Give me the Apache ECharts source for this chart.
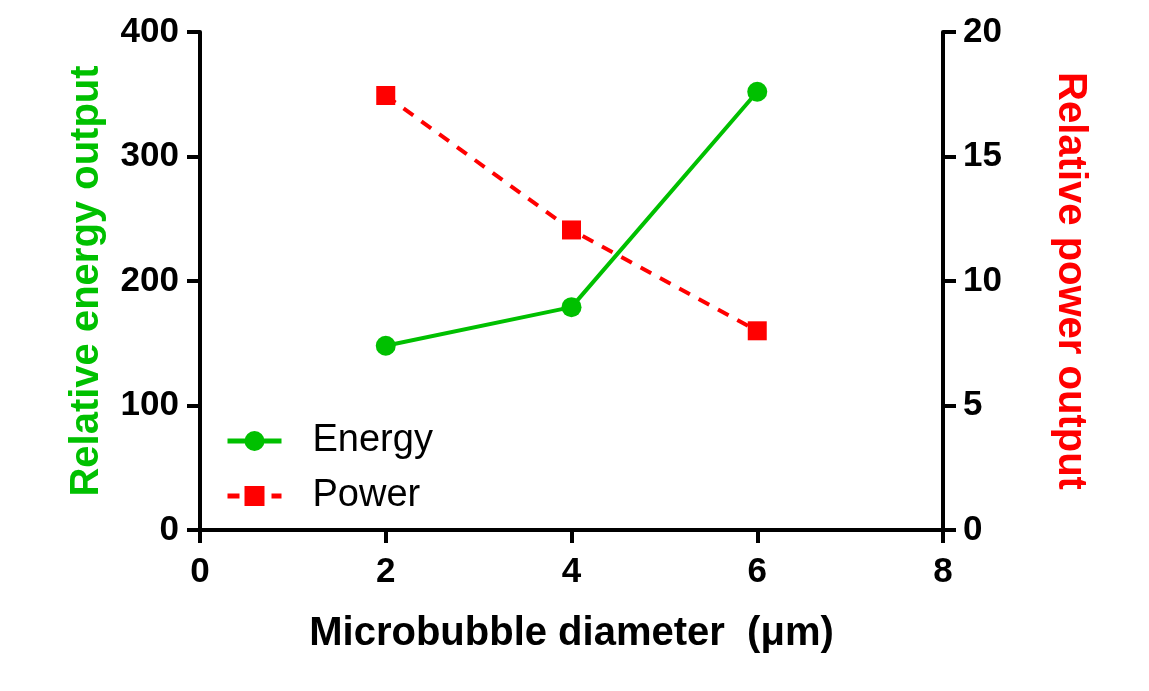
<!DOCTYPE html>
<html>
<head>
<meta charset="utf-8">
<script src="https://cdn.jsdelivr.net/npm/echarts@6/dist/echarts.min.js"></script>
<style>
  html, body { margin: 0; padding: 0; background: #fff; }
  #chart { width: 1149px; height: 691px; }
</style>
</head>
<body>
<div id="chart"></div>
<script>
// values
const diameters = [2, 4, 6];
const energy = [148, 179, 352];
const power = [17.45, 12.05, 8.0];

const GREEN = "#00c000";
const RED = "#ff0000";
const FONT = "Liberation Sans, Arial, sans-serif";

const axisCommon = {
  axisLine: { show: true, lineStyle: { color: "#000", width: 4 } },
  axisTick: { show: true, length: 13, lineStyle: { color: "#000", width: 4 } },
  splitLine: { show: false },
};

const option = {
  backgroundColor: "#fff",
  animation: false,
  grid: { left: 200, right: 206, top: 32, bottom: 161 },
  legend: {
    orient: "vertical",
    left: 220,
    top: 417,
    itemWidth: 54,
    itemHeight: 25,
    itemGap: 17,
    lineStyle: { width: 5 },
    textStyle: {
      fontFamily: FONT,
      fontSize: 38,
      color: "#000",
      padding: [0, 0, 0, 26],
    },
    data: ["Energy", "Power"],
  },
  xAxis: {
    type: "value",
    min: 0,
    max: 8,
    interval: 2,
    name: "Microbubble diameter  (\u03bcm)",
    nameLocation: "middle",
    nameGap: 84,
    nameTextStyle: { fontFamily: FONT, fontSize: 40, fontWeight: "bold", color: "#000" },
    axisLabel: { margin: 25, fontFamily: FONT, fontSize: 35, fontWeight: "bold", color: "#000" },
    ...axisCommon,
  },
  yAxis: [
    {
      type: "value",
      position: "left",
      min: 0,
      max: 400,
      interval: 100,
      name: "Relative energy output",
      nameLocation: "middle",
      nameGap: 93,
      nameTextStyle: { fontFamily: FONT, fontSize: 40, fontWeight: "bold", color: GREEN },
      axisLabel: { margin: 21, fontFamily: FONT, fontSize: 35, fontWeight: "bold", color: "#000" },
      ...axisCommon,
    },
    {
      type: "value",
      position: "right",
      min: 0,
      max: 20,
      interval: 5,
      name: "Relative power output",
      nameLocation: "middle",
      nameRotate: -90,
      nameGap: 107,
      nameTextStyle: { fontFamily: FONT, fontSize: 40, fontWeight: "bold", color: RED },
      axisLabel: { margin: 20, fontFamily: FONT, fontSize: 35, fontWeight: "bold", color: "#000" },
      ...axisCommon,
    },
  ],
  series: [
    {
      name: "Energy",
      type: "line",
      yAxisIndex: 0,
      data: diameters.map((d, i) => [d, energy[i]]),
      symbol: "circle",
      symbolSize: 20,
      itemStyle: { color: GREEN },
      lineStyle: { color: GREEN, width: 4 },
    },
    {
      name: "Power",
      type: "line",
      yAxisIndex: 1,
      data: diameters.map((d, i) => [d, power[i]]),
      symbol: "rect",
      symbolSize: 19,
      itemStyle: { color: RED },
      lineStyle: { color: RED, width: 4, type: [12, 10] },
    },
  ],
};

const myChart = echarts.init(document.getElementById("chart"));
myChart.setOption(option);
</script>
</body>
</html>
